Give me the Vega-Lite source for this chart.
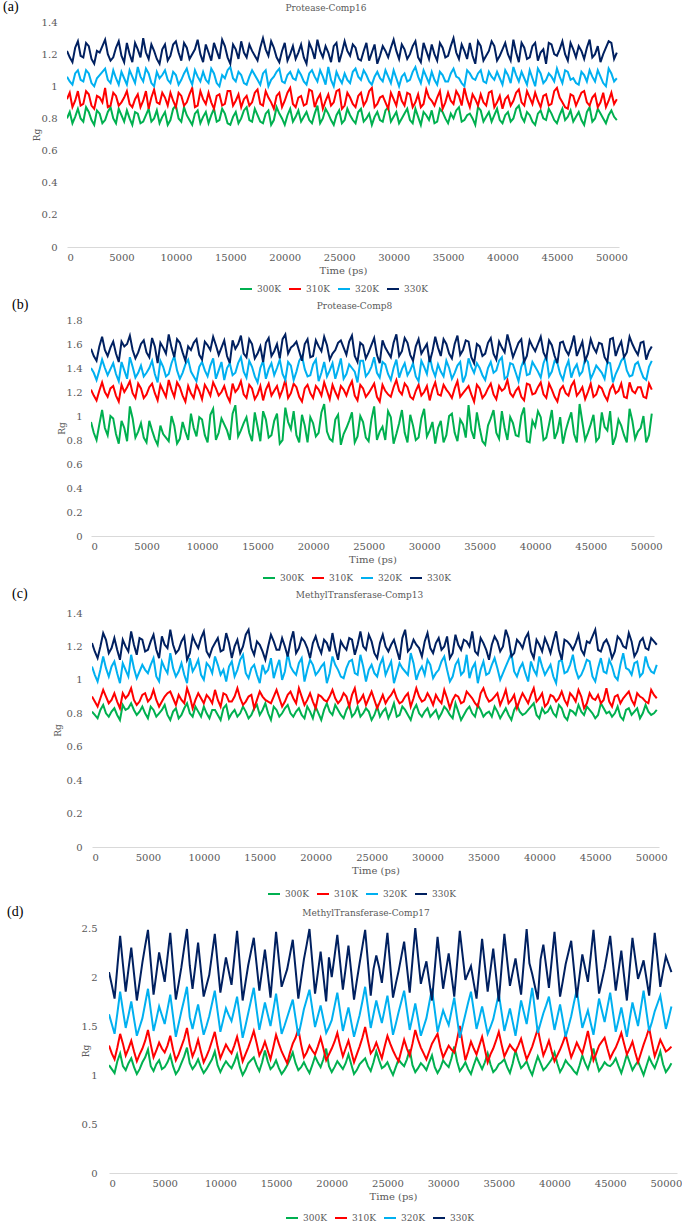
{
"$schema":"https://vega.github.io/schema/vega-lite/v6.json",
"background":"white",
"padding":{"left":3,"top":0,"right":0,"bottom":0},
"config":{
"view":{"stroke":null},
"font":"DejaVu Serif",
"axis":{"labelFont":"DejaVu Serif","labelFontSize":10,"labelColor":"#595959","titleFont":"DejaVu Serif","titleFontSize":10,"titleColor":"#595959","titleFontWeight":"normal","ticks":false,"tickSize":0,"grid":false},
"axisX":{"domainColor":"#D9D9D9","domainWidth":1,"labelPadding":5,"titlePadding":3},
"axisY":{"domain":false,"titleFontSize":9},
"legend":{"labelFont":"DejaVu Serif","labelFontSize":9,"labelColor":"#595959","symbolType":"stroke","symbolSize":144,"symbolStrokeWidth":2,"columnPadding":4,"labelOffset":4,"padding":0},
"title":{"font":"DejaVu Serif","fontSize":9,"color":"#595959","fontWeight":"normal"}
},
"datasets":{
"a":[
{"t":0,"300K":0.80,"310K":0.92,"320K":1.06,"330K":1.22},
{"t":250,"300K":0.84,"310K":0.96,"320K":1.03,"330K":1.18},
{"t":500,"300K":0.77,"310K":0.87,"320K":1.01,"330K":1.15},
{"t":750,"300K":0.81,"310K":0.91,"320K":1.08,"330K":1.24},
{"t":1000,"300K":0.86,"310K":0.97,"320K":1.10,"330K":1.28},
{"t":1250,"300K":0.80,"310K":0.88,"320K":1.04,"330K":1.19},
{"t":1500,"300K":0.78,"310K":0.89,"320K":1.03,"330K":1.18},
{"t":1750,"300K":0.87,"310K":0.97,"320K":1.10,"330K":1.27},
{"t":2000,"300K":0.84,"310K":0.95,"320K":1.08,"330K":1.25},
{"t":2250,"300K":0.79,"310K":0.88,"320K":1.02,"330K":1.17},
{"t":2500,"300K":0.76,"310K":0.86,"320K":1.00,"330K":1.14},
{"t":2750,"300K":0.85,"310K":0.94,"320K":1.05,"330K":1.22},
{"t":3000,"300K":0.83,"310K":0.93,"320K":1.07,"330K":1.21},
{"t":3250,"300K":0.77,"310K":0.90,"320K":1.09,"330K":1.25},
{"t":3500,"300K":0.79,"310K":0.99,"320K":1.11,"330K":1.29},
{"t":3750,"300K":0.84,"310K":0.87,"320K":1.04,"330K":1.20},
{"t":4000,"300K":0.87,"310K":0.88,"320K":1.02,"330K":1.16},
{"t":4250,"300K":0.80,"310K":0.96,"320K":1.10,"330K":1.18},
{"t":4500,"300K":0.77,"310K":0.94,"320K":1.05,"330K":1.24},
{"t":4750,"300K":0.86,"310K":0.88,"320K":1.01,"330K":1.28},
{"t":5000,"300K":0.82,"310K":0.90,"320K":1.09,"330K":1.19},
{"t":5250,"300K":0.78,"310K":0.93,"320K":1.05,"330K":1.15},
{"t":5500,"300K":0.85,"310K":0.97,"320K":1.01,"330K":1.27},
{"t":5750,"300K":0.80,"310K":0.89,"320K":1.10,"330K":1.20},
{"t":6000,"300K":0.76,"310K":0.87,"320K":1.06,"330K":1.15},
{"t":6250,"300K":0.84,"310K":0.92,"320K":1.02,"330K":1.27},
{"t":6500,"300K":0.83,"310K":0.95,"320K":1.12,"330K":1.23},
{"t":6750,"300K":0.77,"310K":0.87,"320K":1.06,"330K":1.18},
{"t":7000,"300K":0.78,"310K":0.91,"320K":1.03,"330K":1.30},
{"t":7250,"300K":0.82,"310K":0.97,"320K":1.11,"330K":1.21},
{"t":7500,"300K":0.86,"310K":0.86,"320K":1.08,"330K":1.17},
{"t":7750,"300K":0.78,"310K":0.93,"320K":1.02,"330K":1.26},
{"t":8000,"300K":0.80,"310K":0.98,"320K":1.00,"330K":1.22},
{"t":8250,"300K":0.85,"310K":0.90,"320K":1.09,"330K":1.17},
{"t":8500,"300K":0.77,"310K":0.89,"320K":1.05,"330K":1.14},
{"t":8750,"300K":0.81,"310K":0.96,"320K":1.07,"330K":1.23},
{"t":9000,"300K":0.84,"310K":0.93,"320K":1.10,"330K":1.26},
{"t":9250,"300K":0.76,"310K":0.88,"320K":1.04,"330K":1.16},
{"t":9500,"300K":0.79,"310K":0.96,"320K":1.02,"330K":1.19},
{"t":9750,"300K":0.86,"310K":0.91,"320K":1.09,"330K":1.26},
{"t":10000,"300K":0.88,"310K":0.87,"320K":1.07,"330K":1.28},
{"t":10250,"300K":0.80,"310K":0.96,"320K":1.01,"330K":1.21},
{"t":10500,"300K":0.78,"310K":0.94,"320K":1.04,"330K":1.16},
{"t":10750,"300K":0.87,"310K":0.88,"320K":1.08,"330K":1.27},
{"t":11000,"300K":0.82,"310K":0.90,"320K":1.11,"330K":1.24},
{"t":11250,"300K":0.79,"310K":0.95,"320K":1.05,"330K":1.17},
{"t":11500,"300K":0.76,"310K":0.99,"320K":1.01,"330K":1.20},
{"t":11750,"300K":0.83,"310K":0.87,"320K":1.10,"330K":1.23},
{"t":12000,"300K":0.85,"310K":0.88,"320K":1.06,"330K":1.29},
{"t":12250,"300K":0.77,"310K":0.97,"320K":1.03,"330K":1.20},
{"t":12500,"300K":0.81,"310K":0.92,"320K":1.09,"330K":1.15},
{"t":12750,"300K":0.84,"310K":0.89,"320K":1.04,"330K":1.26},
{"t":13000,"300K":0.77,"310K":0.96,"320K":1.02,"330K":1.21},
{"t":13250,"300K":0.82,"310K":0.90,"320K":1.11,"330K":1.16},
{"t":13500,"300K":0.86,"310K":0.86,"320K":1.08,"330K":1.27},
{"t":13750,"300K":0.78,"310K":0.94,"320K":1.02,"330K":1.22},
{"t":14000,"300K":0.79,"310K":0.95,"320K":1.00,"330K":1.17},
{"t":14250,"300K":0.86,"310K":0.88,"320K":1.07,"330K":1.29},
{"t":14500,"300K":0.83,"310K":0.89,"320K":1.05,"330K":1.25},
{"t":14750,"300K":0.77,"310K":0.97,"320K":1.10,"330K":1.18},
{"t":15000,"300K":0.76,"310K":0.97,"320K":1.12,"330K":1.14},
{"t":15250,"300K":0.81,"310K":0.88,"320K":1.05,"330K":1.26},
{"t":15500,"300K":0.84,"310K":0.91,"320K":1.03,"330K":1.23},
{"t":15750,"300K":0.77,"310K":0.95,"320K":1.09,"330K":1.17},
{"t":16000,"300K":0.80,"310K":0.87,"320K":1.07,"330K":1.28},
{"t":16250,"300K":0.85,"310K":0.92,"320K":1.02,"330K":1.21},
{"t":16500,"300K":0.87,"310K":0.94,"320K":1.01,"330K":1.18},
{"t":16750,"300K":0.79,"310K":0.88,"320K":1.06,"330K":1.26},
{"t":17000,"300K":0.78,"310K":0.90,"320K":1.10,"330K":1.22},
{"t":17250,"300K":0.86,"310K":0.96,"320K":1.07,"330K":1.19},
{"t":17500,"300K":0.82,"310K":0.98,"320K":1.04,"330K":1.16},
{"t":17750,"300K":0.78,"310K":0.89,"320K":1.01,"330K":1.24},
{"t":18000,"300K":0.77,"310K":0.88,"320K":1.08,"330K":1.30},
{"t":18250,"300K":0.83,"310K":0.97,"320K":1.10,"330K":1.23},
{"t":18500,"300K":0.85,"310K":0.93,"320K":1.00,"330K":1.19},
{"t":18750,"300K":0.76,"310K":0.90,"320K":1.04,"330K":1.28},
{"t":19000,"300K":0.79,"310K":0.86,"320K":1.06,"330K":1.24},
{"t":19250,"300K":0.87,"310K":0.94,"320K":1.09,"330K":1.18},
{"t":19500,"300K":0.83,"310K":0.96,"320K":1.11,"330K":1.15},
{"t":19750,"300K":0.80,"310K":0.87,"320K":1.03,"330K":1.22},
{"t":20000,"300K":0.76,"310K":0.91,"320K":1.02,"330K":1.27},
{"t":20250,"300K":0.82,"310K":0.96,"320K":1.07,"330K":1.16},
{"t":20500,"300K":0.86,"310K":0.99,"320K":1.09,"330K":1.20},
{"t":20750,"300K":0.78,"310K":0.89,"320K":1.05,"330K":1.25},
{"t":21000,"300K":0.81,"310K":0.87,"320K":1.04,"330K":1.17},
{"t":21250,"300K":0.85,"310K":0.93,"320K":1.10,"330K":1.21},
{"t":21500,"300K":0.78,"310K":0.94,"320K":1.07,"330K":1.26},
{"t":21750,"300K":0.81,"310K":0.88,"320K":1.03,"330K":1.18},
{"t":22000,"300K":0.84,"310K":0.89,"320K":1.01,"330K":1.14},
{"t":22250,"300K":0.79,"310K":0.98,"320K":1.08,"330K":1.27},
{"t":22500,"300K":0.77,"310K":0.97,"320K":1.10,"330K":1.23},
{"t":22750,"300K":0.83,"310K":0.87,"320K":1.06,"330K":1.17},
{"t":23000,"300K":0.88,"310K":0.92,"320K":1.03,"330K":1.29},
{"t":23250,"300K":0.77,"310K":0.95,"320K":1.10,"330K":1.22},
{"t":23500,"300K":0.80,"310K":0.86,"320K":1.06,"330K":1.18},
{"t":23750,"300K":0.86,"310K":0.91,"320K":1.01,"330K":1.25},
{"t":24000,"300K":0.83,"310K":0.95,"320K":1.12,"330K":1.21},
{"t":24250,"300K":0.79,"310K":0.88,"320K":1.04,"330K":1.15},
{"t":24500,"300K":0.76,"310K":0.90,"320K":1.00,"330K":1.25},
{"t":24750,"300K":0.82,"310K":0.97,"320K":1.09,"330K":1.27},
{"t":25000,"300K":0.85,"310K":0.98,"320K":1.05,"330K":1.15},
{"t":25250,"300K":0.77,"310K":0.86,"320K":1.02,"330K":1.21},
{"t":25500,"300K":0.79,"310K":0.88,"320K":1.08,"330K":1.28},
{"t":25750,"300K":0.86,"310K":0.96,"320K":1.04,"330K":1.22},
{"t":26000,"300K":0.82,"310K":0.93,"320K":1.02,"330K":1.19},
{"t":26250,"300K":0.79,"310K":0.89,"320K":1.09,"330K":1.26},
{"t":26500,"300K":0.77,"310K":0.87,"320K":1.11,"330K":1.24},
{"t":26750,"300K":0.84,"310K":0.94,"320K":1.06,"330K":1.17},
{"t":27000,"300K":0.86,"310K":0.96,"320K":1.04,"330K":1.16},
{"t":27250,"300K":0.78,"310K":0.88,"320K":1.10,"330K":1.22},
{"t":27500,"300K":0.80,"310K":0.91,"320K":1.07,"330K":1.27},
{"t":27750,"300K":0.83,"310K":0.97,"320K":1.03,"330K":1.16},
{"t":28000,"300K":0.76,"310K":0.99,"320K":1.01,"330K":1.21},
{"t":28250,"300K":0.81,"310K":0.87,"320K":1.06,"330K":1.26},
{"t":28500,"300K":0.84,"310K":0.89,"320K":1.09,"330K":1.14},
{"t":28750,"300K":0.79,"310K":0.93,"320K":1.05,"330K":1.19},
{"t":29000,"300K":0.78,"310K":0.94,"320K":1.03,"330K":1.25},
{"t":29250,"300K":0.85,"310K":0.90,"320K":1.10,"330K":1.22},
{"t":29500,"300K":0.87,"310K":0.86,"320K":1.06,"330K":1.18},
{"t":29750,"300K":0.78,"310K":0.96,"320K":1.02,"330K":1.24},
{"t":30000,"300K":0.81,"310K":0.92,"320K":1.10,"330K":1.29},
{"t":30250,"300K":0.84,"310K":0.88,"320K":1.05,"330K":1.22},
{"t":30500,"300K":0.77,"310K":0.97,"320K":1.00,"330K":1.17},
{"t":30750,"300K":0.80,"310K":0.91,"320K":1.06,"330K":1.26},
{"t":31000,"300K":0.83,"310K":0.88,"320K":1.08,"330K":1.23},
{"t":31250,"300K":0.86,"310K":0.96,"320K":1.03,"330K":1.17},
{"t":31500,"300K":0.79,"310K":0.95,"320K":1.04,"330K":1.20},
{"t":31750,"300K":0.77,"310K":0.87,"320K":1.09,"330K":1.25},
{"t":32000,"300K":0.86,"310K":0.90,"320K":1.12,"330K":1.28},
{"t":32250,"300K":0.81,"310K":0.95,"320K":1.06,"330K":1.18},
{"t":32500,"300K":0.76,"310K":0.87,"320K":1.02,"330K":1.15},
{"t":32750,"300K":0.84,"310K":0.89,"320K":1.10,"330K":1.27},
{"t":33000,"300K":0.82,"310K":0.98,"320K":1.06,"330K":1.22},
{"t":33250,"300K":0.79,"310K":0.93,"320K":1.02,"330K":1.17},
{"t":33500,"300K":0.85,"310K":0.91,"320K":1.09,"330K":1.26},
{"t":33750,"300K":0.77,"310K":0.88,"320K":1.04,"330K":1.20},
{"t":34000,"300K":0.78,"310K":0.93,"320K":1.01,"330K":1.16},
{"t":34250,"300K":0.86,"310K":0.97,"320K":1.09,"330K":1.27},
{"t":34500,"300K":0.84,"310K":0.86,"320K":1.07,"330K":1.24},
{"t":34750,"300K":0.80,"310K":0.90,"320K":1.03,"330K":1.18},
{"t":35000,"300K":0.77,"310K":0.96,"320K":1.03,"330K":1.19},
{"t":35250,"300K":0.83,"310K":0.91,"320K":1.08,"330K":1.25},
{"t":35500,"300K":0.80,"310K":0.89,"320K":1.11,"330K":1.30},
{"t":35750,"300K":0.85,"310K":0.97,"320K":1.06,"330K":1.21},
{"t":36000,"300K":0.87,"310K":0.94,"320K":1.05,"330K":1.17},
{"t":36250,"300K":0.78,"310K":0.88,"320K":1.02,"330K":1.26},
{"t":36500,"300K":0.79,"310K":0.99,"320K":1.00,"330K":1.22},
{"t":36750,"300K":0.82,"310K":0.92,"320K":1.10,"330K":1.17},
{"t":37000,"300K":0.83,"310K":0.87,"320K":1.08,"330K":1.27},
{"t":37250,"300K":0.80,"310K":0.95,"320K":1.05,"330K":1.19},
{"t":37500,"300K":0.76,"310K":0.92,"320K":1.04,"330K":1.14},
{"t":37750,"300K":0.87,"310K":0.88,"320K":1.08,"330K":1.28},
{"t":38000,"300K":0.85,"310K":0.95,"320K":1.10,"330K":1.25},
{"t":38250,"300K":0.78,"310K":0.90,"320K":1.03,"330K":1.16},
{"t":38500,"300K":0.81,"310K":0.88,"320K":1.02,"330K":1.19},
{"t":38750,"300K":0.84,"310K":0.96,"320K":1.09,"330K":1.22},
{"t":39000,"300K":0.78,"310K":0.97,"320K":1.06,"330K":1.28},
{"t":39250,"300K":0.82,"310K":0.87,"320K":1.04,"330K":1.25},
{"t":39500,"300K":0.86,"310K":0.90,"320K":1.09,"330K":1.16},
{"t":39750,"300K":0.79,"310K":0.94,"320K":1.05,"330K":1.19},
{"t":40000,"300K":0.77,"310K":0.86,"320K":1.01,"330K":1.23},
{"t":40250,"300K":0.82,"310K":0.92,"320K":1.10,"330K":1.27},
{"t":40500,"300K":0.84,"310K":0.94,"320K":1.07,"330K":1.20},
{"t":40750,"300K":0.78,"310K":0.88,"320K":1.02,"330K":1.16},
{"t":41000,"300K":0.80,"310K":0.91,"320K":1.12,"330K":1.29},
{"t":41250,"300K":0.86,"310K":0.96,"320K":1.07,"330K":1.21},
{"t":41500,"300K":0.88,"310K":0.98,"320K":1.03,"330K":1.15},
{"t":41750,"300K":0.81,"310K":0.90,"320K":1.09,"330K":1.27},
{"t":42000,"300K":0.78,"310K":0.88,"320K":1.05,"330K":1.24},
{"t":42250,"300K":0.84,"310K":0.97,"320K":1.01,"330K":1.17},
{"t":42500,"300K":0.82,"310K":0.93,"320K":1.10,"330K":1.18},
{"t":42750,"300K":0.78,"310K":0.89,"320K":1.05,"330K":1.25},
{"t":43000,"300K":0.76,"310K":0.96,"320K":1.00,"330K":1.27},
{"t":43250,"300K":0.83,"310K":0.91,"320K":1.11,"330K":1.16},
{"t":43500,"300K":0.85,"310K":0.87,"320K":1.08,"330K":1.21},
{"t":43750,"300K":0.80,"310K":0.94,"320K":1.02,"330K":1.23},
{"t":44000,"300K":0.79,"310K":0.95,"320K":1.04,"330K":1.14},
{"t":44250,"300K":0.86,"310K":0.88,"320K":1.08,"330K":1.27},
{"t":44500,"300K":0.83,"310K":0.89,"320K":1.06,"330K":1.26},
{"t":44750,"300K":0.79,"310K":0.97,"320K":1.03,"330K":1.20},
{"t":45000,"300K":0.77,"310K":0.99,"320K":1.11,"330K":1.19},
{"t":45250,"300K":0.82,"310K":0.93,"320K":1.06,"330K":1.23},
{"t":45500,"300K":0.86,"310K":0.90,"320K":1.02,"330K":1.28},
{"t":45750,"300K":0.79,"310K":0.87,"320K":1.10,"330K":1.20},
{"t":46000,"300K":0.81,"310K":0.86,"320K":1.09,"330K":1.16},
{"t":46250,"300K":0.85,"310K":0.95,"320K":1.04,"330K":1.27},
{"t":46500,"300K":0.78,"310K":0.94,"320K":1.05,"330K":1.23},
{"t":46750,"300K":0.81,"310K":0.88,"320K":1.02,"330K":1.18},
{"t":47000,"300K":0.84,"310K":0.92,"320K":1.01,"330K":1.25},
{"t":47250,"300K":0.79,"310K":0.96,"320K":1.09,"330K":1.22},
{"t":47500,"300K":0.76,"310K":0.97,"320K":1.07,"330K":1.17},
{"t":47750,"300K":0.84,"310K":0.90,"320K":1.03,"330K":1.24},
{"t":48000,"300K":0.87,"310K":0.88,"320K":1.10,"330K":1.29},
{"t":48250,"300K":0.78,"310K":0.93,"320K":1.06,"330K":1.18},
{"t":48500,"300K":0.80,"310K":0.95,"320K":1.03,"330K":1.20},
{"t":48750,"300K":0.86,"310K":0.87,"320K":1.10,"330K":1.25},
{"t":49000,"300K":0.83,"310K":0.90,"320K":1.06,"330K":1.15},
{"t":49250,"300K":0.80,"310K":0.96,"320K":1.02,"330K":1.20},
{"t":49500,"300K":0.77,"310K":0.87,"320K":1.00,"330K":1.24},
{"t":49750,"300K":0.82,"310K":0.91,"320K":1.11,"330K":1.28},
{"t":50000,"300K":0.85,"310K":0.96,"320K":1.08,"330K":1.27},
{"t":50250,"300K":0.81,"310K":0.89,"320K":1.03,"330K":1.17},
{"t":50500,"300K":0.79,"310K":0.92,"320K":1.05,"330K":1.21}
],
"b":[
{"t":0,"300K":0.95,"310K":1.22,"320K":1.40,"330K":1.56},
{"t":250,"300K":0.86,"310K":1.17,"320K":1.36,"330K":1.50},
{"t":500,"300K":0.80,"310K":1.13,"320K":1.30,"330K":1.46},
{"t":750,"300K":0.93,"310K":1.21,"320K":1.38,"330K":1.58},
{"t":1000,"300K":1.05,"310K":1.28,"320K":1.47,"330K":1.66},
{"t":1250,"300K":0.90,"310K":1.20,"320K":1.40,"330K":1.55},
{"t":1500,"300K":0.84,"310K":1.16,"320K":1.34,"330K":1.50},
{"t":1750,"300K":1.00,"310K":1.23,"320K":1.39,"330K":1.57},
{"t":2000,"300K":0.98,"310K":1.25,"320K":1.44,"330K":1.62},
{"t":2250,"300K":0.85,"310K":1.17,"320K":1.35,"330K":1.52},
{"t":2500,"300K":0.77,"310K":1.12,"320K":1.29,"330K":1.45},
{"t":2750,"300K":0.96,"310K":1.26,"320K":1.45,"330K":1.62},
{"t":3000,"300K":0.90,"310K":1.20,"320K":1.38,"330K":1.58},
{"t":3250,"300K":0.79,"310K":1.24,"320K":1.31,"330K":1.60},
{"t":3500,"300K":1.08,"310K":1.29,"320K":1.49,"330K":1.67},
{"t":3750,"300K":0.98,"310K":1.19,"320K":1.41,"330K":1.55},
{"t":4000,"300K":0.82,"310K":1.15,"320K":1.32,"330K":1.48},
{"t":4250,"300K":0.87,"310K":1.27,"320K":1.36,"330K":1.53},
{"t":4500,"300K":0.94,"310K":1.23,"320K":1.42,"330K":1.60},
{"t":4750,"300K":0.82,"310K":1.15,"320K":1.33,"330K":1.63},
{"t":5000,"300K":0.78,"310K":1.18,"320K":1.36,"330K":1.53},
{"t":5250,"300K":0.96,"310K":1.24,"320K":1.40,"330K":1.49},
{"t":5500,"300K":0.88,"310K":1.27,"320K":1.46,"330K":1.65},
{"t":5750,"300K":0.81,"310K":1.19,"320K":1.35,"330K":1.58},
{"t":6000,"300K":0.76,"310K":1.13,"320K":1.28,"330K":1.44},
{"t":6250,"300K":0.92,"310K":1.26,"320K":1.46,"330K":1.61},
{"t":6500,"300K":0.85,"310K":1.21,"320K":1.41,"330K":1.57},
{"t":6750,"300K":0.82,"310K":1.16,"320K":1.33,"330K":1.52},
{"t":7000,"300K":0.79,"310K":1.30,"320K":1.35,"330K":1.68},
{"t":7250,"300K":1.00,"310K":1.22,"320K":1.44,"330K":1.57},
{"t":7500,"300K":0.92,"310K":1.16,"320K":1.50,"330K":1.49},
{"t":7750,"300K":0.77,"310K":1.28,"320K":1.38,"330K":1.64},
{"t":8000,"300K":0.81,"310K":1.24,"320K":1.31,"330K":1.61},
{"t":8250,"300K":0.95,"310K":1.17,"320K":1.36,"330K":1.53},
{"t":8500,"300K":0.87,"310K":1.12,"320K":1.43,"330K":1.46},
{"t":8750,"300K":0.80,"310K":1.25,"320K":1.47,"330K":1.58},
{"t":9000,"300K":1.02,"310K":1.19,"320K":1.37,"330K":1.55},
{"t":9250,"300K":0.90,"310K":1.15,"320K":1.33,"330K":1.61},
{"t":9500,"300K":0.83,"310K":1.26,"320K":1.29,"330K":1.64},
{"t":9750,"300K":0.99,"310K":1.21,"320K":1.41,"330K":1.51},
{"t":10000,"300K":0.97,"310K":1.14,"320K":1.45,"330K":1.47},
{"t":10250,"300K":0.84,"310K":1.26,"320K":1.38,"330K":1.62},
{"t":10500,"300K":0.78,"310K":1.22,"320K":1.33,"330K":1.59},
{"t":10750,"300K":1.01,"310K":1.17,"320K":1.42,"330K":1.55},
{"t":11000,"300K":1.06,"310K":1.28,"320K":1.48,"330K":1.66},
{"t":11250,"300K":0.80,"310K":1.23,"320K":1.31,"330K":1.59},
{"t":11500,"300K":0.86,"310K":1.17,"320K":1.38,"330K":1.51},
{"t":11750,"300K":0.98,"310K":1.20,"320K":1.45,"330K":1.57},
{"t":12000,"300K":0.93,"310K":1.25,"320K":1.30,"330K":1.63},
{"t":12250,"300K":0.88,"310K":1.17,"320K":1.40,"330K":1.50},
{"t":12500,"300K":0.80,"310K":1.12,"320K":1.44,"330K":1.44},
{"t":12750,"300K":1.02,"310K":1.27,"320K":1.34,"330K":1.63},
{"t":13000,"300K":1.09,"310K":1.20,"320K":1.36,"330K":1.56},
{"t":13250,"300K":0.83,"310K":1.23,"320K":1.44,"330K":1.60},
{"t":13500,"300K":0.88,"310K":1.29,"320K":1.49,"330K":1.67},
{"t":13750,"300K":0.94,"310K":1.18,"320K":1.37,"330K":1.52},
{"t":14000,"300K":0.99,"310K":1.15,"320K":1.32,"330K":1.49},
{"t":14250,"300K":0.86,"310K":1.26,"320K":1.46,"330K":1.64},
{"t":14500,"300K":0.79,"310K":1.23,"320K":1.41,"330K":1.60},
{"t":14750,"300K":1.03,"310K":1.14,"320K":1.33,"330K":1.48},
{"t":15000,"300K":0.91,"310K":1.18,"320K":1.28,"330K":1.52},
{"t":15250,"300K":0.79,"310K":1.25,"320K":1.40,"330K":1.58},
{"t":15500,"300K":1.04,"310K":1.13,"320K":1.46,"330K":1.45},
{"t":15750,"300K":0.97,"310K":1.22,"320K":1.31,"330K":1.61},
{"t":16000,"300K":0.82,"310K":1.27,"320K":1.39,"330K":1.65},
{"t":16250,"300K":0.84,"310K":1.17,"320K":1.44,"330K":1.50},
{"t":16500,"300K":0.96,"310K":1.21,"320K":1.34,"330K":1.54},
{"t":16750,"300K":1.02,"310K":1.25,"320K":1.40,"330K":1.60},
{"t":17000,"300K":0.77,"310K":1.16,"320K":1.47,"330K":1.48},
{"t":17250,"300K":0.80,"310K":1.22,"320K":1.35,"330K":1.64},
{"t":17500,"300K":1.07,"310K":1.30,"320K":1.30,"330K":1.68},
{"t":17750,"300K":0.95,"310K":1.15,"320K":1.45,"330K":1.52},
{"t":18000,"300K":0.89,"310K":1.19,"320K":1.42,"330K":1.57},
{"t":18250,"300K":1.04,"310K":1.27,"320K":1.30,"330K":1.59},
{"t":18500,"300K":0.84,"310K":1.24,"320K":1.37,"330K":1.62},
{"t":18750,"300K":0.78,"310K":1.16,"320K":1.46,"330K":1.54},
{"t":19000,"300K":1.01,"310K":1.12,"320K":1.50,"330K":1.46},
{"t":19250,"300K":0.92,"310K":1.23,"320K":1.39,"330K":1.60},
{"t":19500,"300K":0.78,"310K":1.26,"320K":1.33,"330K":1.64},
{"t":19750,"300K":0.99,"310K":1.19,"320K":1.34,"330K":1.49},
{"t":20000,"300K":0.94,"310K":1.15,"320K":1.43,"330K":1.50},
{"t":20250,"300K":0.83,"310K":1.25,"320K":1.47,"330K":1.63},
{"t":20500,"300K":0.86,"310K":1.22,"320K":1.29,"330K":1.58},
{"t":20750,"300K":1.03,"310K":1.17,"320K":1.36,"330K":1.54},
{"t":21000,"300K":1.10,"310K":1.28,"320K":1.45,"330K":1.66},
{"t":21250,"300K":0.87,"310K":1.21,"320K":1.33,"330K":1.59},
{"t":21500,"300K":0.81,"310K":1.14,"320K":1.38,"330K":1.47},
{"t":21750,"300K":0.79,"310K":1.26,"320K":1.44,"330K":1.52},
{"t":22000,"300K":0.97,"310K":1.20,"320K":1.31,"330K":1.55},
{"t":22250,"300K":1.01,"310K":1.15,"320K":1.39,"330K":1.61},
{"t":22500,"300K":0.76,"310K":1.25,"320K":1.48,"330K":1.63},
{"t":22750,"300K":0.85,"310K":1.22,"320K":1.31,"330K":1.57},
{"t":23000,"300K":0.90,"310K":1.17,"320K":1.35,"330K":1.51},
{"t":23250,"300K":0.96,"310K":1.24,"320K":1.43,"330K":1.62},
{"t":23500,"300K":1.03,"310K":1.29,"320K":1.40,"330K":1.67},
{"t":23750,"300K":0.78,"310K":1.17,"320K":1.37,"330K":1.50},
{"t":24000,"300K":0.83,"310K":1.13,"320K":1.28,"330K":1.45},
{"t":24250,"300K":1.00,"310K":1.26,"320K":1.46,"330K":1.61},
{"t":24500,"300K":0.95,"310K":1.23,"320K":1.46,"330K":1.59},
{"t":24750,"300K":0.82,"310K":1.16,"320K":1.33,"330K":1.48},
{"t":25000,"300K":0.79,"310K":1.19,"320K":1.36,"330K":1.53},
{"t":25250,"300K":0.97,"310K":1.23,"320K":1.41,"330K":1.59},
{"t":25500,"300K":1.08,"310K":1.27,"320K":1.49,"330K":1.65},
{"t":25750,"300K":0.80,"310K":1.16,"320K":1.36,"330K":1.51},
{"t":26000,"300K":0.87,"310K":1.12,"320K":1.32,"330K":1.44},
{"t":26250,"300K":0.91,"310K":1.26,"320K":1.45,"330K":1.63},
{"t":26500,"300K":0.80,"310K":1.21,"320K":1.43,"330K":1.57},
{"t":26750,"300K":1.04,"310K":1.18,"320K":1.35,"330K":1.53},
{"t":27000,"300K":0.99,"310K":1.16,"320K":1.30,"330K":1.49},
{"t":27250,"300K":0.77,"310K":1.24,"320K":1.40,"330K":1.61},
{"t":27500,"300K":0.85,"310K":1.30,"320K":1.47,"330K":1.68},
{"t":27750,"300K":0.94,"310K":1.21,"320K":1.32,"330K":1.50},
{"t":28000,"300K":1.05,"310K":1.18,"320K":1.39,"330K":1.54},
{"t":28250,"300K":0.86,"310K":1.27,"320K":1.44,"330K":1.65},
{"t":28500,"300K":0.78,"310K":1.24,"320K":1.34,"330K":1.61},
{"t":28750,"300K":1.01,"310K":1.16,"320K":1.38,"330K":1.51},
{"t":29000,"300K":0.92,"310K":1.14,"320K":1.44,"330K":1.46},
{"t":29250,"300K":0.80,"310K":1.21,"320K":1.33,"330K":1.58},
{"t":29500,"300K":0.82,"310K":1.26,"320K":1.29,"330K":1.64},
{"t":29750,"300K":0.98,"310K":1.17,"320K":1.46,"330K":1.52},
{"t":30000,"300K":1.06,"310K":1.20,"320K":1.41,"330K":1.56},
{"t":30250,"300K":0.83,"310K":1.25,"320K":1.35,"330K":1.60},
{"t":30500,"300K":0.88,"310K":1.13,"320K":1.50,"330K":1.45},
{"t":30750,"300K":0.95,"310K":1.22,"320K":1.39,"330K":1.54},
{"t":31000,"300K":0.77,"310K":1.28,"320K":1.33,"330K":1.66},
{"t":31250,"300K":0.90,"310K":1.18,"320K":1.43,"330K":1.57},
{"t":31500,"300K":0.96,"310K":1.17,"320K":1.37,"330K":1.50},
{"t":31750,"300K":0.78,"310K":1.26,"320K":1.33,"330K":1.64},
{"t":32000,"300K":0.84,"310K":1.22,"320K":1.46,"330K":1.60},
{"t":32250,"300K":1.00,"310K":1.19,"320K":1.40,"330K":1.52},
{"t":32500,"300K":1.02,"310K":1.15,"320K":1.31,"330K":1.48},
{"t":32750,"300K":0.86,"310K":1.23,"320K":1.36,"330K":1.60},
{"t":33000,"300K":0.79,"310K":1.29,"320K":1.42,"330K":1.67},
{"t":33250,"300K":0.97,"310K":1.16,"320K":1.45,"330K":1.51},
{"t":33500,"300K":0.93,"310K":1.19,"320K":1.28,"330K":1.55},
{"t":33750,"300K":0.82,"310K":1.22,"320K":1.34,"330K":1.63},
{"t":34000,"300K":1.09,"310K":1.25,"320K":1.48,"330K":1.62},
{"t":34250,"300K":0.88,"310K":1.18,"320K":1.41,"330K":1.49},
{"t":34500,"300K":0.81,"310K":1.12,"320K":1.36,"330K":1.44},
{"t":34750,"300K":1.03,"310K":1.26,"320K":1.44,"330K":1.60},
{"t":35000,"300K":0.90,"310K":1.23,"320K":1.40,"330K":1.58},
{"t":35250,"300K":0.79,"310K":1.15,"320K":1.34,"330K":1.50},
{"t":35500,"300K":0.76,"310K":1.18,"320K":1.30,"330K":1.52},
{"t":35750,"300K":0.92,"310K":1.23,"320K":1.40,"330K":1.61},
{"t":36000,"300K":0.98,"310K":1.27,"320K":1.45,"330K":1.65},
{"t":36250,"300K":1.05,"310K":1.18,"320K":1.36,"330K":1.52},
{"t":36500,"300K":0.86,"310K":1.14,"320K":1.38,"330K":1.47},
{"t":36750,"300K":0.81,"310K":1.25,"320K":1.46,"330K":1.62},
{"t":37000,"300K":1.04,"310K":1.21,"320K":1.49,"330K":1.57},
{"t":37250,"300K":0.90,"310K":1.23,"320K":1.31,"330K":1.53},
{"t":37500,"300K":0.80,"310K":1.30,"320K":1.33,"330K":1.68},
{"t":37750,"300K":0.99,"310K":1.19,"320K":1.44,"330K":1.59},
{"t":38000,"300K":0.94,"310K":1.16,"320K":1.43,"330K":1.49},
{"t":38250,"300K":0.84,"310K":1.21,"320K":1.36,"330K":1.55},
{"t":38500,"300K":0.83,"310K":1.24,"320K":1.29,"330K":1.61},
{"t":38750,"300K":1.00,"310K":1.16,"320K":1.41,"330K":1.64},
{"t":39000,"300K":1.07,"310K":1.13,"320K":1.47,"330K":1.45},
{"t":39250,"300K":0.79,"310K":1.27,"320K":1.34,"330K":1.50},
{"t":39500,"300K":0.78,"310K":1.26,"320K":1.35,"330K":1.63},
{"t":39750,"300K":0.96,"310K":1.18,"320K":1.45,"330K":1.58},
{"t":40000,"300K":0.91,"310K":1.19,"320K":1.41,"330K":1.54},
{"t":40250,"300K":1.04,"310K":1.24,"320K":1.37,"330K":1.60},
{"t":40500,"300K":0.99,"310K":1.28,"320K":1.32,"330K":1.66},
{"t":40750,"300K":0.80,"310K":1.18,"320K":1.44,"330K":1.53},
{"t":41000,"300K":0.82,"310K":1.15,"320K":1.50,"330K":1.48},
{"t":41250,"300K":0.93,"310K":1.27,"320K":1.33,"330K":1.63},
{"t":41500,"300K":1.05,"310K":1.22,"320K":1.37,"330K":1.59},
{"t":41750,"300K":0.81,"310K":1.16,"320K":1.46,"330K":1.50},
{"t":42000,"300K":0.87,"310K":1.12,"320K":1.44,"330K":1.44},
{"t":42250,"300K":0.99,"310K":1.22,"320K":1.35,"330K":1.61},
{"t":42500,"300K":0.77,"310K":1.25,"320K":1.30,"330K":1.62},
{"t":42750,"300K":0.88,"310K":1.19,"320K":1.40,"330K":1.55},
{"t":43000,"300K":0.96,"310K":1.17,"320K":1.46,"330K":1.51},
{"t":43250,"300K":1.03,"310K":1.25,"320K":1.32,"330K":1.58},
{"t":43500,"300K":0.85,"310K":1.29,"320K":1.39,"330K":1.67},
{"t":43750,"300K":0.78,"310K":1.17,"320K":1.43,"330K":1.50},
{"t":44000,"300K":1.10,"310K":1.20,"320K":1.34,"330K":1.56},
{"t":44250,"300K":0.95,"310K":1.24,"320K":1.37,"330K":1.62},
{"t":44500,"300K":0.80,"310K":1.14,"320K":1.48,"330K":1.46},
{"t":44750,"300K":0.86,"310K":1.20,"320K":1.45,"330K":1.52},
{"t":45000,"300K":0.93,"310K":1.27,"320K":1.31,"330K":1.64},
{"t":45250,"300K":1.01,"310K":1.16,"320K":1.36,"330K":1.57},
{"t":45500,"300K":0.79,"310K":1.18,"320K":1.42,"330K":1.53},
{"t":45750,"300K":0.82,"310K":1.25,"320K":1.39,"330K":1.61},
{"t":46000,"300K":1.03,"310K":1.23,"320K":1.36,"330K":1.60},
{"t":46250,"300K":0.91,"310K":1.17,"320K":1.31,"330K":1.49},
{"t":46500,"300K":0.88,"310K":1.13,"320K":1.45,"330K":1.45},
{"t":46750,"300K":1.04,"310K":1.22,"320K":1.44,"330K":1.64},
{"t":47000,"300K":0.76,"310K":1.26,"320K":1.28,"330K":1.65},
{"t":47250,"300K":0.83,"310K":1.19,"320K":1.35,"330K":1.50},
{"t":47500,"300K":0.97,"310K":1.21,"320K":1.40,"330K":1.57},
{"t":47750,"300K":0.92,"310K":1.27,"320K":1.46,"330K":1.62},
{"t":48000,"300K":0.84,"310K":1.16,"320K":1.49,"330K":1.49},
{"t":48250,"300K":0.78,"310K":1.15,"320K":1.38,"330K":1.53},
{"t":48500,"300K":1.06,"310K":1.28,"320K":1.33,"330K":1.66},
{"t":48750,"300K":0.96,"310K":1.21,"320K":1.34,"330K":1.60},
{"t":49000,"300K":0.81,"310K":1.19,"320K":1.43,"330K":1.55},
{"t":49250,"300K":0.87,"310K":1.24,"320K":1.45,"330K":1.51},
{"t":49500,"300K":0.90,"310K":1.24,"320K":1.38,"330K":1.61},
{"t":49750,"300K":1.00,"310K":1.16,"320K":1.32,"330K":1.62},
{"t":50000,"300K":0.78,"310K":1.15,"320K":1.30,"330K":1.47},
{"t":50250,"300K":0.84,"310K":1.27,"320K":1.41,"330K":1.54},
{"t":50500,"300K":1.02,"310K":1.22,"320K":1.46,"330K":1.58}
],
"c":[
{"t":0,"300K":0.81,"310K":0.90,"320K":1.08,"330K":1.22},
{"t":250,"300K":0.79,"310K":0.87,"320K":1.03,"330K":1.17},
{"t":500,"300K":0.77,"310K":0.84,"320K":0.99,"330K":1.13},
{"t":750,"300K":0.82,"310K":0.89,"320K":1.06,"330K":1.20},
{"t":1000,"300K":0.85,"310K":0.94,"320K":1.14,"330K":1.28},
{"t":1250,"300K":0.80,"310K":0.90,"320K":1.07,"330K":1.24},
{"t":1500,"300K":0.78,"310K":0.86,"320K":1.02,"330K":1.16},
{"t":1750,"300K":0.81,"310K":0.88,"320K":1.08,"330K":1.19},
{"t":2000,"300K":0.83,"310K":0.92,"320K":1.11,"330K":1.25},
{"t":2250,"300K":0.79,"310K":0.87,"320K":1.04,"330K":1.18},
{"t":2500,"300K":0.76,"310K":0.83,"320K":0.98,"330K":1.12},
{"t":2750,"300K":0.85,"310K":0.92,"320K":1.10,"330K":1.24},
{"t":3000,"300K":0.82,"310K":0.89,"320K":1.06,"330K":1.20},
{"t":3250,"300K":0.83,"310K":0.91,"320K":1.02,"330K":1.17},
{"t":3500,"300K":0.86,"310K":0.95,"320K":1.15,"330K":1.29},
{"t":3750,"300K":0.82,"310K":0.88,"320K":1.07,"330K":1.21},
{"t":4000,"300K":0.79,"310K":0.85,"320K":1.01,"330K":1.15},
{"t":4250,"300K":0.81,"310K":0.87,"320K":1.05,"330K":1.25},
{"t":4500,"300K":0.84,"310K":0.91,"320K":1.09,"330K":1.24},
{"t":4750,"300K":0.80,"310K":0.92,"320K":1.06,"330K":1.17},
{"t":5000,"300K":0.77,"310K":0.87,"320K":1.04,"330K":1.18},
{"t":5250,"300K":0.84,"310K":0.89,"320K":1.09,"330K":1.23},
{"t":5500,"300K":0.82,"310K":0.94,"320K":1.13,"330K":1.27},
{"t":5750,"300K":0.78,"310K":0.88,"320K":1.02,"330K":1.18},
{"t":6000,"300K":0.80,"310K":0.84,"320K":0.99,"330K":1.13},
{"t":6250,"300K":0.82,"310K":0.87,"320K":1.11,"330K":1.26},
{"t":6500,"300K":0.85,"310K":0.90,"320K":1.07,"330K":1.21},
{"t":6750,"300K":0.79,"310K":0.92,"320K":1.04,"330K":1.19},
{"t":7000,"300K":0.76,"310K":0.93,"320K":1.16,"330K":1.30},
{"t":7250,"300K":0.81,"310K":0.89,"320K":1.07,"330K":1.21},
{"t":7500,"300K":0.83,"310K":0.85,"320K":1.02,"330K":1.16},
{"t":7750,"300K":0.77,"310K":0.91,"320K":1.05,"330K":1.18},
{"t":8000,"300K":0.79,"310K":0.88,"320K":1.10,"330K":1.23},
{"t":8250,"300K":0.83,"310K":0.86,"320K":1.03,"330K":1.26},
{"t":8500,"300K":0.86,"310K":0.95,"320K":0.98,"330K":1.12},
{"t":8750,"300K":0.80,"310K":0.90,"320K":1.13,"330K":1.16},
{"t":9000,"300K":0.78,"310K":0.83,"320K":1.05,"330K":1.26},
{"t":9250,"300K":0.84,"310K":0.88,"320K":1.08,"330K":1.22},
{"t":9500,"300K":0.81,"310K":0.92,"320K":1.12,"330K":1.19},
{"t":9750,"300K":0.78,"310K":0.89,"320K":1.03,"330K":1.25},
{"t":10000,"300K":0.84,"310K":0.86,"320K":1.00,"330K":1.29},
{"t":10250,"300K":0.80,"310K":0.91,"320K":1.10,"330K":1.17},
{"t":10500,"300K":0.77,"310K":0.89,"320K":1.08,"330K":1.14},
{"t":10750,"300K":0.82,"310K":0.86,"320K":1.04,"330K":1.19},
{"t":11000,"300K":0.82,"310K":0.94,"320K":1.14,"330K":1.22},
{"t":11250,"300K":0.79,"310K":0.88,"320K":1.09,"330K":1.25},
{"t":11500,"300K":0.76,"310K":0.84,"320K":1.03,"330K":1.17},
{"t":11750,"300K":0.83,"310K":0.92,"320K":1.06,"330K":1.18},
{"t":12000,"300K":0.85,"310K":0.91,"320K":0.99,"330K":1.28},
{"t":12250,"300K":0.77,"310K":0.87,"320K":1.08,"330K":1.22},
{"t":12500,"300K":0.80,"310K":0.87,"320K":1.11,"330K":1.13},
{"t":12750,"300K":0.82,"310K":0.90,"320K":1.02,"330K":1.20},
{"t":13000,"300K":0.78,"310K":0.95,"320K":1.06,"330K":1.24},
{"t":13250,"300K":0.80,"310K":0.89,"320K":1.12,"330K":1.16},
{"t":13500,"300K":0.84,"310K":0.85,"320K":1.15,"330K":1.20},
{"t":13750,"300K":0.81,"310K":0.87,"320K":1.04,"330K":1.27},
{"t":14000,"300K":0.77,"310K":0.90,"320K":1.01,"330K":1.30},
{"t":14250,"300K":0.79,"310K":0.91,"320K":1.07,"330K":1.19},
{"t":14500,"300K":0.83,"310K":0.83,"320K":1.09,"330K":1.15},
{"t":14750,"300K":0.85,"310K":0.88,"320K":1.03,"330K":1.23},
{"t":15000,"300K":0.79,"310K":0.93,"320K":0.98,"330K":1.21},
{"t":15250,"300K":0.82,"310K":0.90,"320K":1.09,"330K":1.17},
{"t":15500,"300K":0.86,"310K":0.88,"320K":1.04,"330K":1.12},
{"t":15750,"300K":0.80,"310K":0.87,"320K":1.06,"330K":1.20},
{"t":16000,"300K":0.76,"310K":0.86,"320K":1.13,"330K":1.27},
{"t":16250,"300K":0.84,"310K":0.90,"320K":1.01,"330K":1.23},
{"t":16500,"300K":0.82,"310K":0.94,"320K":1.07,"330K":1.18},
{"t":16750,"300K":0.78,"310K":0.89,"320K":1.12,"330K":1.18},
{"t":17000,"300K":0.80,"310K":0.84,"320K":1.00,"330K":1.25},
{"t":17250,"300K":0.83,"310K":0.87,"320K":1.05,"330K":1.20},
{"t":17500,"300K":0.85,"310K":0.91,"320K":1.16,"330K":1.14},
{"t":17750,"300K":0.80,"310K":0.93,"320K":1.08,"330K":1.23},
{"t":18000,"300K":0.78,"310K":0.89,"320K":1.05,"330K":1.29},
{"t":18250,"300K":0.81,"310K":0.86,"320K":1.03,"330K":1.16},
{"t":18500,"300K":0.83,"310K":0.95,"320K":1.10,"330K":1.19},
{"t":18750,"300K":0.79,"310K":0.90,"320K":1.13,"330K":1.25},
{"t":19000,"300K":0.77,"310K":0.85,"320K":0.99,"330K":1.23},
{"t":19250,"300K":0.84,"310K":0.88,"320K":1.06,"330K":1.19},
{"t":19500,"300K":0.81,"310K":0.92,"320K":1.12,"330K":1.13},
{"t":19750,"300K":0.77,"310K":0.87,"320K":1.09,"330K":1.22},
{"t":20000,"300K":0.84,"310K":0.83,"320K":1.03,"330K":1.26},
{"t":20250,"300K":0.80,"310K":0.91,"320K":1.05,"330K":1.20},
{"t":20500,"300K":0.76,"310K":0.90,"320K":1.08,"330K":1.16},
{"t":20750,"300K":0.82,"310K":0.88,"320K":1.10,"330K":1.24},
{"t":21000,"300K":0.86,"310K":0.87,"320K":0.98,"330K":1.22},
{"t":21250,"300K":0.81,"310K":0.90,"320K":1.04,"330K":1.17},
{"t":21500,"300K":0.79,"310K":0.94,"320K":1.14,"330K":1.28},
{"t":21750,"300K":0.85,"310K":0.89,"320K":1.09,"330K":1.19},
{"t":22000,"300K":0.82,"310K":0.86,"320K":1.06,"330K":1.12},
{"t":22250,"300K":0.79,"310K":0.88,"320K":1.02,"330K":1.23},
{"t":22500,"300K":0.77,"310K":0.92,"320K":1.01,"330K":1.20},
{"t":22750,"300K":0.82,"310K":0.90,"320K":1.07,"330K":1.18},
{"t":23000,"300K":0.85,"310K":0.84,"320K":1.11,"330K":1.25},
{"t":23250,"300K":0.78,"310K":0.91,"320K":1.12,"330K":1.24},
{"t":23500,"300K":0.80,"310K":0.95,"320K":1.04,"330K":1.15},
{"t":23750,"300K":0.84,"310K":0.86,"320K":1.03,"330K":1.21},
{"t":24000,"300K":0.78,"310K":0.88,"320K":1.15,"330K":1.29},
{"t":24250,"300K":0.80,"310K":0.91,"320K":1.08,"330K":1.20},
{"t":24500,"300K":0.83,"310K":0.85,"320K":0.99,"330K":1.18},
{"t":24750,"300K":0.81,"310K":0.89,"320K":1.06,"330K":1.27},
{"t":25000,"300K":0.76,"310K":0.93,"320K":1.09,"330K":1.23},
{"t":25250,"300K":0.79,"310K":0.88,"320K":1.04,"330K":1.16},
{"t":25500,"300K":0.84,"310K":0.83,"320K":1.02,"330K":1.13},
{"t":25750,"300K":0.78,"310K":0.87,"320K":1.09,"330K":1.22},
{"t":26000,"300K":0.81,"310K":0.91,"320K":1.13,"330K":1.27},
{"t":26250,"300K":0.83,"310K":0.86,"320K":1.03,"330K":1.20},
{"t":26500,"300K":0.77,"310K":0.89,"320K":1.07,"330K":1.17},
{"t":26750,"300K":0.81,"310K":0.91,"320K":1.11,"330K":1.21},
{"t":27000,"300K":0.86,"310K":0.94,"320K":0.98,"330K":1.24},
{"t":27250,"300K":0.78,"310K":0.89,"320K":1.04,"330K":1.18},
{"t":27500,"300K":0.79,"310K":0.86,"320K":1.10,"330K":1.12},
{"t":27750,"300K":0.84,"310K":0.87,"320K":1.07,"330K":1.25},
{"t":28000,"300K":0.82,"310K":0.90,"320K":1.05,"330K":1.30},
{"t":28250,"300K":0.79,"310K":0.92,"320K":1.03,"330K":1.17},
{"t":28500,"300K":0.76,"310K":0.84,"320K":1.16,"330K":1.19},
{"t":28750,"300K":0.82,"310K":0.89,"320K":1.10,"330K":1.24},
{"t":29000,"300K":0.85,"310K":0.95,"320K":1.00,"330K":1.21},
{"t":29250,"300K":0.80,"310K":0.90,"320K":1.05,"330K":1.19},
{"t":29500,"300K":0.78,"310K":0.87,"320K":1.08,"330K":1.14},
{"t":29750,"300K":0.81,"310K":0.88,"320K":1.03,"330K":1.23},
{"t":30000,"300K":0.83,"310K":0.92,"320K":1.12,"330K":1.28},
{"t":30250,"300K":0.78,"310K":0.89,"320K":1.09,"330K":1.19},
{"t":30500,"300K":0.80,"310K":0.85,"320K":1.01,"330K":1.16},
{"t":30750,"300K":0.82,"310K":0.91,"320K":1.04,"330K":1.22},
{"t":31000,"300K":0.77,"310K":0.88,"320K":1.06,"330K":1.25},
{"t":31250,"300K":0.80,"310K":0.86,"320K":1.11,"330K":1.18},
{"t":31500,"300K":0.84,"310K":0.94,"320K":1.14,"330K":1.20},
{"t":31750,"300K":0.82,"310K":0.89,"320K":1.06,"330K":1.26},
{"t":32000,"300K":0.79,"310K":0.83,"320K":0.99,"330K":1.13},
{"t":32250,"300K":0.77,"310K":0.88,"320K":1.02,"330K":1.16},
{"t":32500,"300K":0.86,"310K":0.91,"320K":1.09,"330K":1.27},
{"t":32750,"300K":0.81,"310K":0.90,"320K":1.12,"330K":1.21},
{"t":33000,"300K":0.76,"310K":0.86,"320K":1.03,"330K":1.18},
{"t":33250,"300K":0.79,"310K":0.87,"320K":1.05,"330K":1.24},
{"t":33500,"300K":0.82,"310K":0.93,"320K":1.15,"330K":1.23},
{"t":33750,"300K":0.84,"310K":0.91,"320K":1.01,"330K":1.20},
{"t":34000,"300K":0.80,"310K":0.89,"320K":1.07,"330K":1.29},
{"t":34250,"300K":0.78,"310K":0.86,"320K":1.10,"330K":1.17},
{"t":34500,"300K":0.85,"310K":0.84,"320K":0.98,"330K":1.15},
{"t":34750,"300K":0.82,"310K":0.92,"320K":1.06,"330K":1.25},
{"t":35000,"300K":0.78,"310K":0.95,"320K":1.11,"330K":1.22},
{"t":35250,"300K":0.80,"310K":0.90,"320K":1.03,"330K":1.18},
{"t":35500,"300K":0.81,"310K":0.87,"320K":1.04,"330K":1.12},
{"t":35750,"300K":0.78,"310K":0.88,"320K":1.09,"330K":1.21},
{"t":36000,"300K":0.84,"310K":0.90,"320K":1.13,"330K":1.26},
{"t":36250,"300K":0.81,"310K":0.92,"320K":1.07,"330K":1.23},
{"t":36500,"300K":0.77,"310K":0.85,"320K":1.00,"330K":1.17},
{"t":36750,"300K":0.80,"310K":0.89,"320K":1.04,"330K":1.20},
{"t":37000,"300K":0.83,"310K":0.94,"320K":1.08,"330K":1.30},
{"t":37250,"300K":0.79,"310K":0.86,"320K":1.12,"330K":1.25},
{"t":37500,"300K":0.76,"310K":0.88,"320K":1.16,"330K":1.14},
{"t":37750,"300K":0.82,"310K":0.91,"320K":1.05,"330K":1.16},
{"t":38000,"300K":0.85,"310K":0.83,"320K":1.02,"330K":1.24},
{"t":38250,"300K":0.81,"310K":0.88,"320K":1.07,"330K":1.22},
{"t":38500,"300K":0.79,"310K":0.92,"320K":1.10,"330K":1.19},
{"t":38750,"300K":0.80,"310K":0.89,"320K":1.04,"330K":1.25},
{"t":39000,"300K":0.82,"310K":0.86,"320K":0.99,"330K":1.28},
{"t":39250,"300K":0.84,"310K":0.91,"320K":1.11,"330K":1.17},
{"t":39500,"300K":0.86,"310K":0.95,"320K":1.06,"330K":1.13},
{"t":39750,"300K":0.79,"310K":0.87,"320K":1.03,"330K":1.24},
{"t":40000,"300K":0.77,"310K":0.89,"320K":1.14,"330K":1.21},
{"t":40250,"300K":0.83,"310K":0.92,"320K":1.08,"330K":1.17},
{"t":40500,"300K":0.80,"310K":0.84,"320K":1.03,"330K":1.25},
{"t":40750,"300K":0.81,"310K":0.86,"320K":1.06,"330K":1.21},
{"t":41000,"300K":0.84,"310K":0.91,"320K":1.09,"330K":1.16},
{"t":41250,"300K":0.80,"310K":0.90,"320K":1.02,"330K":1.23},
{"t":41500,"300K":0.78,"310K":0.87,"320K":0.98,"330K":1.29},
{"t":41750,"300K":0.85,"310K":0.89,"320K":1.11,"330K":1.18},
{"t":42000,"300K":0.83,"310K":0.93,"320K":1.12,"330K":1.12},
{"t":42250,"300K":0.78,"310K":0.88,"320K":1.04,"330K":1.24},
{"t":42500,"300K":0.76,"310K":0.85,"320K":1.05,"330K":1.23},
{"t":42750,"300K":0.82,"310K":0.92,"320K":1.09,"330K":1.21},
{"t":43000,"300K":0.81,"310K":0.90,"320K":1.15,"330K":1.18},
{"t":43250,"300K":0.79,"310K":0.87,"320K":1.06,"330K":1.22},
{"t":43500,"300K":0.85,"310K":0.94,"320K":1.01,"330K":1.27},
{"t":43750,"300K":0.81,"310K":0.90,"320K":1.03,"330K":1.18},
{"t":44000,"300K":0.79,"310K":0.83,"320K":1.07,"330K":1.15},
{"t":44250,"300K":0.84,"310K":0.86,"320K":1.12,"330K":1.23},
{"t":44500,"300K":0.82,"310K":0.92,"320K":1.11,"330K":1.22},
{"t":44750,"300K":0.80,"310K":0.89,"320K":1.02,"330K":1.26},
{"t":45000,"300K":0.77,"310K":0.88,"320K":0.99,"330K":1.30},
{"t":45250,"300K":0.79,"310K":0.91,"320K":1.07,"330K":1.18},
{"t":45500,"300K":0.86,"310K":0.86,"320K":1.13,"330K":1.17},
{"t":45750,"300K":0.83,"310K":0.88,"320K":1.05,"330K":1.22},
{"t":46000,"300K":0.80,"310K":0.95,"320K":1.04,"330K":1.24},
{"t":46250,"300K":0.81,"310K":0.87,"320K":1.12,"330K":1.20},
{"t":46500,"300K":0.78,"310K":0.84,"320K":1.08,"330K":1.13},
{"t":46750,"300K":0.80,"310K":0.90,"320K":1.02,"330K":1.17},
{"t":47000,"300K":0.84,"310K":0.91,"320K":1.00,"330K":1.26},
{"t":47250,"300K":0.78,"310K":0.86,"320K":1.09,"330K":1.24},
{"t":47500,"300K":0.76,"310K":0.89,"320K":1.16,"330K":1.20},
{"t":47750,"300K":0.82,"310K":0.91,"320K":1.07,"330K":1.19},
{"t":48000,"300K":0.83,"310K":0.93,"320K":1.06,"330K":1.28},
{"t":48250,"300K":0.79,"310K":0.88,"320K":1.03,"330K":1.23},
{"t":48500,"300K":0.81,"310K":0.85,"320K":1.10,"330K":1.14},
{"t":48750,"300K":0.83,"310K":0.92,"320K":1.11,"330K":1.17},
{"t":49000,"300K":0.77,"310K":0.90,"320K":1.02,"330K":1.23},
{"t":49250,"300K":0.80,"310K":0.89,"320K":1.04,"330K":1.25},
{"t":49500,"300K":0.85,"310K":0.87,"320K":1.14,"330K":1.19},
{"t":49750,"300K":0.81,"310K":0.86,"320K":1.08,"330K":1.18},
{"t":50000,"300K":0.79,"310K":0.94,"320K":1.05,"330K":1.25},
{"t":50250,"300K":0.80,"310K":0.91,"320K":1.04,"330K":1.23},
{"t":50500,"300K":0.82,"310K":0.89,"320K":1.09,"330K":1.21}
],
"d":[
{"t":0,"300K":1.10,"310K":1.30,"320K":1.62,"330K":2.05},
{"t":250,"300K":1.06,"310K":1.22,"320K":1.52,"330K":1.92},
{"t":500,"300K":1.02,"310K":1.16,"320K":1.42,"330K":1.78},
{"t":750,"300K":1.14,"310K":1.28,"320K":1.63,"330K":2.10},
{"t":1000,"300K":1.22,"310K":1.42,"320K":1.85,"330K":2.42},
{"t":1250,"300K":1.09,"310K":1.32,"320K":1.66,"330K":2.13},
{"t":1500,"300K":1.05,"310K":1.20,"320K":1.48,"330K":1.85},
{"t":1750,"300K":1.12,"310K":1.27,"320K":1.61,"330K":2.08},
{"t":2000,"300K":1.17,"310K":1.35,"320K":1.75,"330K":2.30},
{"t":2250,"300K":1.08,"310K":1.24,"320K":1.57,"330K":2.03},
{"t":2500,"300K":1.01,"310K":1.14,"320K":1.40,"330K":1.76},
{"t":2750,"300K":1.06,"310K":1.21,"320K":1.49,"330K":1.95},
{"t":3000,"300K":1.13,"310K":1.27,"320K":1.58,"330K":2.15},
{"t":3250,"300K":1.18,"310K":1.35,"320K":1.73,"330K":2.32},
{"t":3500,"300K":1.26,"310K":1.46,"320K":1.88,"330K":2.48},
{"t":3750,"300K":1.09,"310K":1.31,"320K":1.66,"330K":2.15},
{"t":4000,"300K":1.04,"310K":1.18,"320K":1.45,"330K":1.82},
{"t":4250,"300K":1.11,"310K":1.25,"320K":1.57,"330K":2.03},
{"t":4500,"300K":1.15,"310K":1.33,"320K":1.70,"330K":2.25},
{"t":4750,"300K":1.06,"310K":1.27,"320K":1.61,"330K":2.10},
{"t":5000,"300K":1.08,"310K":1.23,"320K":1.52,"330K":1.95},
{"t":5250,"300K":1.13,"310K":1.30,"320K":1.67,"330K":2.20},
{"t":5500,"300K":1.20,"310K":1.40,"320K":1.82,"330K":2.45},
{"t":5750,"300K":1.09,"310K":1.26,"320K":1.60,"330K":2.11},
{"t":6000,"300K":1.01,"310K":1.15,"320K":1.39,"330K":1.77},
{"t":6250,"300K":1.05,"310K":1.21,"320K":1.52,"330K":1.93},
{"t":6500,"300K":1.12,"310K":1.29,"320K":1.65,"330K":2.10},
{"t":6750,"300K":1.19,"310K":1.37,"320K":1.77,"330K":2.30},
{"t":7000,"300K":1.28,"310K":1.48,"320K":1.90,"330K":2.49},
{"t":7250,"300K":1.12,"310K":1.31,"320K":1.59,"330K":2.12},
{"t":7500,"300K":1.06,"310K":1.19,"320K":1.47,"330K":1.88},
{"t":7750,"300K":1.10,"310K":1.26,"320K":1.60,"330K":2.11},
{"t":8000,"300K":1.16,"310K":1.36,"320K":1.72,"330K":2.35},
{"t":8250,"300K":1.08,"310K":1.24,"320K":1.56,"330K":2.07},
{"t":8500,"300K":1.02,"310K":1.13,"320K":1.41,"330K":1.80},
{"t":8750,"300K":1.06,"310K":1.19,"320K":1.50,"330K":1.91},
{"t":9000,"300K":1.11,"310K":1.26,"320K":1.60,"330K":2.02},
{"t":9250,"300K":1.16,"310K":1.35,"320K":1.73,"330K":2.23},
{"t":9500,"300K":1.24,"310K":1.44,"320K":1.86,"330K":2.44},
{"t":9750,"300K":1.10,"310K":1.29,"320K":1.65,"330K":2.14},
{"t":10000,"300K":1.03,"310K":1.17,"320K":1.44,"330K":1.84},
{"t":10250,"300K":1.09,"310K":1.24,"320K":1.56,"330K":2.02},
{"t":10500,"300K":1.14,"310K":1.31,"320K":1.68,"330K":2.20},
{"t":10750,"300K":1.10,"310K":1.26,"320K":1.61,"330K":2.06},
{"t":11000,"300K":1.07,"310K":1.22,"320K":1.55,"330K":1.92},
{"t":11250,"300K":1.13,"310K":1.30,"320K":1.67,"330K":2.19},
{"t":11500,"300K":1.21,"310K":1.39,"320K":1.80,"330K":2.47},
{"t":11750,"300K":1.08,"310K":1.27,"320K":1.59,"330K":2.12},
{"t":12000,"300K":1.00,"310K":1.14,"320K":1.38,"330K":1.76},
{"t":12250,"300K":1.05,"310K":1.21,"320K":1.50,"330K":1.94},
{"t":12500,"300K":1.12,"310K":1.28,"320K":1.63,"330K":2.12},
{"t":12750,"300K":1.15,"310K":1.36,"320K":1.76,"330K":2.26},
{"t":13000,"300K":1.18,"310K":1.45,"320K":1.89,"330K":2.40},
{"t":13250,"300K":1.10,"310K":1.33,"320K":1.67,"330K":2.13},
{"t":13500,"300K":1.04,"310K":1.20,"320K":1.46,"330K":1.86},
{"t":13750,"300K":1.13,"310K":1.26,"320K":1.60,"330K":2.07},
{"t":14000,"300K":1.25,"310K":1.34,"320K":1.74,"330K":2.28},
{"t":14250,"300K":1.14,"310K":1.25,"320K":1.62,"330K":2.04},
{"t":14500,"300K":1.06,"310K":1.16,"320K":1.50,"330K":1.79},
{"t":14750,"300K":1.09,"310K":1.28,"320K":1.66,"330K":2.12},
{"t":15000,"300K":1.15,"310K":1.41,"320K":1.83,"330K":2.46},
{"t":15250,"300K":1.07,"310K":1.32,"320K":1.62,"330K":2.18},
{"t":15500,"300K":1.01,"310K":1.24,"320K":1.42,"330K":1.90},
{"t":15750,"300K":1.05,"310K":1.18,"320K":1.50,"330K":1.99},
{"t":16000,"300K":1.10,"310K":1.12,"320K":1.59,"330K":2.08},
{"t":16250,"300K":1.16,"310K":1.23,"320K":1.68,"330K":2.23},
{"t":16500,"300K":1.23,"310K":1.32,"320K":1.77,"330K":2.38},
{"t":16750,"300K":1.12,"310K":1.38,"320K":1.58,"330K":2.08},
{"t":17000,"300K":1.05,"310K":1.47,"320K":1.40,"330K":1.78},
{"t":17250,"300K":1.08,"310K":1.31,"320K":1.53,"330K":1.98},
{"t":17500,"300K":1.13,"310K":1.18,"320K":1.67,"330K":2.18},
{"t":17750,"300K":1.07,"310K":1.23,"320K":1.77,"330K":2.33},
{"t":18000,"300K":1.02,"310K":1.30,"320K":1.87,"330K":2.49},
{"t":18250,"300K":1.10,"310K":1.25,"320K":1.68,"330K":2.16},
{"t":18500,"300K":1.19,"310K":1.21,"320K":1.49,"330K":1.83},
{"t":18750,"300K":1.13,"310K":1.29,"320K":1.60,"330K":2.04},
{"t":19000,"300K":1.08,"310K":1.38,"320K":1.71,"330K":2.26},
{"t":19250,"300K":1.16,"310K":1.27,"320K":1.57,"330K":2.01},
{"t":19500,"300K":1.27,"310K":1.15,"320K":1.43,"330K":1.75},
{"t":19750,"300K":1.09,"310K":1.21,"320K":1.49,"330K":2.20},
{"t":20000,"300K":1.03,"310K":1.27,"320K":1.56,"330K":2.00},
{"t":20250,"300K":1.08,"310K":1.34,"320K":1.70,"330K":2.21},
{"t":20500,"300K":1.14,"310K":1.43,"320K":1.84,"330K":2.43},
{"t":20750,"300K":1.10,"310K":1.30,"320K":1.65,"330K":2.15},
{"t":21000,"300K":1.06,"310K":1.19,"320K":1.45,"330K":1.87},
{"t":21250,"300K":1.12,"310K":1.27,"320K":1.57,"330K":2.09},
{"t":21500,"300K":1.21,"310K":1.35,"320K":1.69,"330K":2.32},
{"t":21750,"300K":1.11,"310K":1.24,"320K":1.54,"330K":2.05},
{"t":22000,"300K":1.01,"310K":1.13,"320K":1.39,"330K":1.77},
{"t":22250,"300K":1.05,"310K":1.21,"320K":1.50,"330K":1.96},
{"t":22500,"300K":1.11,"310K":1.29,"320K":1.61,"330K":2.14},
{"t":22750,"300K":1.14,"310K":1.38,"320K":1.75,"330K":2.31},
{"t":23000,"300K":1.17,"310K":1.49,"320K":1.90,"330K":2.48},
{"t":23250,"300K":1.09,"310K":1.35,"320K":1.69,"330K":2.15},
{"t":23500,"300K":1.04,"310K":1.22,"320K":1.48,"330K":1.81},
{"t":23750,"300K":1.13,"310K":1.26,"320K":1.62,"330K":2.08},
{"t":24000,"300K":1.24,"310K":1.33,"320K":1.76,"330K":2.22},
{"t":24250,"300K":1.15,"310K":1.25,"320K":1.64,"330K":2.10},
{"t":24500,"300K":1.07,"310K":1.17,"320K":1.53,"330K":1.94},
{"t":24750,"300K":1.09,"310K":1.29,"320K":1.67,"330K":2.19},
{"t":25000,"300K":1.13,"310K":1.40,"320K":1.81,"330K":2.45},
{"t":25250,"300K":1.06,"310K":1.32,"320K":1.61,"330K":2.12},
{"t":25500,"300K":1.00,"310K":1.25,"320K":1.41,"330K":1.79},
{"t":25750,"300K":1.08,"310K":1.19,"320K":1.52,"330K":1.93},
{"t":26000,"300K":1.16,"310K":1.14,"320K":1.64,"330K":2.06},
{"t":26250,"300K":1.12,"310K":1.25,"320K":1.75,"330K":2.21},
{"t":26500,"300K":1.09,"310K":1.36,"320K":1.86,"330K":2.36},
{"t":26750,"300K":1.16,"310K":1.27,"320K":1.66,"330K":2.10},
{"t":27000,"300K":1.26,"310K":1.20,"320K":1.46,"330K":1.84},
{"t":27250,"300K":1.10,"310K":1.32,"320K":1.59,"330K":2.17},
{"t":27500,"300K":1.03,"310K":1.46,"320K":1.73,"330K":2.50},
{"t":27750,"300K":1.07,"310K":1.36,"320K":1.57,"330K":2.21},
{"t":28000,"300K":1.12,"310K":1.28,"320K":1.40,"330K":1.93},
{"t":28250,"300K":1.09,"310K":1.22,"320K":1.49,"330K":2.05},
{"t":28500,"300K":1.05,"310K":1.16,"320K":1.58,"330K":2.16},
{"t":28750,"300K":1.13,"310K":1.24,"320K":1.73,"330K":1.96},
{"t":29000,"300K":1.20,"310K":1.32,"320K":1.88,"330K":1.76},
{"t":29250,"300K":1.08,"310K":1.37,"320K":1.66,"330K":2.08},
{"t":29500,"300K":1.02,"310K":1.42,"320K":1.44,"330K":2.41},
{"t":29750,"300K":1.07,"310K":1.28,"320K":1.55,"330K":2.15},
{"t":30000,"300K":1.15,"310K":1.18,"320K":1.66,"330K":1.88},
{"t":30250,"300K":1.11,"310K":1.24,"320K":1.58,"330K":2.06},
{"t":30500,"300K":1.08,"310K":1.30,"320K":1.51,"330K":2.24},
{"t":30750,"300K":1.17,"310K":1.26,"320K":1.65,"330K":2.02},
{"t":31000,"300K":1.29,"310K":1.23,"320K":1.79,"330K":1.80},
{"t":31250,"300K":1.14,"310K":1.36,"320K":1.58,"330K":2.13},
{"t":31500,"300K":1.04,"310K":1.50,"320K":1.38,"330K":2.47},
{"t":31750,"300K":1.08,"310K":1.32,"320K":1.50,"330K":2.22},
{"t":32000,"300K":1.13,"310K":1.15,"320K":1.62,"330K":1.97},
{"t":32250,"300K":1.06,"310K":1.24,"320K":1.74,"330K":2.04},
{"t":32500,"300K":1.01,"310K":1.34,"320K":1.85,"330K":2.11},
{"t":32750,"300K":1.10,"310K":1.27,"320K":1.66,"330K":1.94},
{"t":33000,"300K":1.18,"310K":1.21,"320K":1.47,"330K":1.78},
{"t":33250,"300K":1.12,"310K":1.30,"320K":1.58,"330K":2.08},
{"t":33500,"300K":1.06,"310K":1.39,"320K":1.70,"330K":2.39},
{"t":33750,"300K":1.13,"310K":1.26,"320K":1.56,"330K":2.12},
{"t":34000,"300K":1.22,"310K":1.13,"320K":1.42,"330K":1.85},
{"t":34250,"300K":1.11,"310K":1.21,"320K":1.49,"330K":2.07},
{"t":34500,"300K":1.03,"310K":1.27,"320K":1.57,"330K":2.29},
{"t":34750,"300K":1.06,"310K":1.35,"320K":1.70,"330K":2.02},
{"t":35000,"300K":1.11,"310K":1.44,"320K":1.83,"330K":1.75},
{"t":35250,"300K":1.13,"310K":1.31,"320K":1.64,"330K":2.10},
{"t":35500,"300K":1.16,"310K":1.19,"320K":1.45,"330K":2.44},
{"t":35750,"300K":1.08,"310K":1.25,"320K":1.56,"330K":2.17},
{"t":36000,"300K":1.02,"310K":1.31,"320K":1.68,"330K":1.91},
{"t":36250,"300K":1.12,"310K":1.27,"320K":1.54,"330K":2.05},
{"t":36500,"300K":1.25,"310K":1.24,"320K":1.40,"330K":2.19},
{"t":36750,"300K":1.15,"310K":1.30,"320K":1.58,"330K":2.00},
{"t":37000,"300K":1.07,"310K":1.37,"320K":1.76,"330K":1.82},
{"t":37250,"300K":1.10,"310K":1.26,"320K":1.64,"330K":2.16},
{"t":37500,"300K":1.14,"310K":1.16,"320K":1.52,"330K":2.49},
{"t":37750,"300K":1.06,"310K":1.22,"320K":1.70,"330K":2.14},
{"t":38000,"300K":1.00,"310K":1.29,"320K":1.89,"330K":2.03},
{"t":38250,"300K":1.10,"310K":1.38,"320K":1.66,"330K":1.90},
{"t":38500,"300K":1.19,"310K":1.47,"320K":1.43,"330K":1.77},
{"t":38750,"300K":1.12,"310K":1.33,"320K":1.53,"330K":2.18},
{"t":39000,"300K":1.05,"310K":1.20,"320K":1.63,"330K":2.33},
{"t":39250,"300K":1.08,"310K":1.27,"320K":1.71,"330K":2.11},
{"t":39500,"300K":1.12,"310K":1.35,"320K":1.80,"330K":1.89},
{"t":39750,"300K":1.16,"310K":1.24,"320K":1.63,"330K":2.17},
{"t":40000,"300K":1.23,"310K":1.14,"320K":1.46,"330K":2.46},
{"t":40250,"300K":1.12,"310K":1.20,"320K":1.59,"330K":2.13},
{"t":40500,"300K":1.03,"310K":1.26,"320K":1.72,"330K":1.80},
{"t":40750,"300K":1.08,"310K":1.33,"320K":1.56,"330K":1.96},
{"t":41000,"300K":1.15,"310K":1.41,"320K":1.39,"330K":2.13},
{"t":41250,"300K":1.11,"310K":1.29,"320K":1.49,"330K":2.25},
{"t":41500,"300K":1.08,"310K":1.18,"320K":1.60,"330K":2.37},
{"t":41750,"300K":1.04,"310K":1.25,"320K":1.74,"330K":2.08},
{"t":42000,"300K":1.01,"310K":1.33,"320K":1.87,"330K":1.79},
{"t":42250,"300K":1.10,"310K":1.27,"320K":1.67,"330K":2.01},
{"t":42500,"300K":1.20,"310K":1.22,"320K":1.48,"330K":2.23},
{"t":42750,"300K":1.12,"310K":1.33,"320K":1.57,"330K":2.09},
{"t":43000,"300K":1.06,"310K":1.45,"320K":1.66,"330K":1.95},
{"t":43250,"300K":1.15,"310K":1.30,"320K":1.53,"330K":2.21},
{"t":43500,"300K":1.27,"310K":1.15,"320K":1.41,"330K":2.48},
{"t":43750,"300K":1.14,"310K":1.22,"320K":1.59,"330K":2.15},
{"t":44000,"300K":1.04,"310K":1.30,"320K":1.78,"330K":1.83},
{"t":44250,"300K":1.08,"310K":1.34,"320K":1.66,"330K":1.96},
{"t":44500,"300K":1.13,"310K":1.38,"320K":1.54,"330K":2.09},
{"t":44750,"300K":1.10,"310K":1.27,"320K":1.69,"330K":2.25},
{"t":45000,"300K":1.09,"310K":1.17,"320K":1.84,"330K":2.42},
{"t":45250,"300K":1.12,"310K":1.23,"320K":1.64,"330K":2.14},
{"t":45500,"300K":1.17,"310K":1.28,"320K":1.44,"330K":1.86},
{"t":45750,"300K":1.09,"310K":1.35,"320K":1.56,"330K":2.06},
{"t":46000,"300K":1.02,"310K":1.43,"320K":1.69,"330K":2.27},
{"t":46250,"300K":1.11,"310K":1.32,"320K":1.54,"330K":2.01},
{"t":46500,"300K":1.21,"310K":1.21,"320K":1.39,"330K":1.76},
{"t":46750,"300K":1.13,"310K":1.27,"320K":1.57,"330K":2.08},
{"t":47000,"300K":1.05,"310K":1.34,"320K":1.74,"330K":2.40},
{"t":47250,"300K":1.10,"310K":1.23,"320K":1.62,"330K":2.19},
{"t":47500,"300K":1.14,"310K":1.13,"320K":1.50,"330K":1.98},
{"t":47750,"300K":1.07,"310K":1.22,"320K":1.68,"330K":2.07},
{"t":48000,"300K":1.00,"310K":1.31,"320K":1.86,"330K":2.17},
{"t":48250,"300K":1.09,"310K":1.39,"320K":1.65,"330K":1.99},
{"t":48500,"300K":1.18,"310K":1.48,"320K":1.45,"330K":1.81},
{"t":48750,"300K":1.12,"310K":1.33,"320K":1.54,"330K":2.13},
{"t":49000,"300K":1.07,"310K":1.19,"320K":1.65,"330K":2.45},
{"t":49250,"300K":1.15,"310K":1.27,"320K":1.73,"330K":2.18},
{"t":49500,"300K":1.24,"310K":1.36,"320K":1.81,"330K":1.90},
{"t":49750,"300K":1.11,"310K":1.30,"320K":1.64,"330K":2.06},
{"t":50000,"300K":1.03,"310K":1.24,"320K":1.47,"330K":2.21},
{"t":50250,"300K":1.07,"310K":1.26,"320K":1.58,"330K":2.13},
{"t":50500,"300K":1.12,"310K":1.29,"320K":1.70,"330K":2.05}
]
},
"vconcat":[
{
"hconcat":[
{"width":29,"height":1,"title":{"text":"(a)","anchor":"start","frame":"group","font":"Liberation Serif","fontSize":14,"color":"#000000","fontWeight":"normal","offset":8,"dx":0},"data":{"values":[]},"mark":"point"},
{
"width":552,"height":225,
"title":{"text":"Protease-Comp16","offset":4,"dx":-17},
"data":{"name":"a"},
"transform":[{"fold":["300K","310K","320K","330K"],"as":["series","rg"]}],
"mark":{"type":"line","strokeWidth":2,"clip":true},
"encoding":{
"x":{"field":"t","type":"quantitative","scale":{"domain":[0,50700],"nice":false,"zero":false},"axis":{"title":"Time (ps)","values":[0,5000,10000,15000,20000,25000,30000,35000,40000,45000,50000],"format":"d"}},
"y":{"field":"rg","type":"quantitative","scale":{"domain":[0,1.4],"nice":false},"axis":{"title":"Rg","values":[0,0.2,0.4,0.6,0.8,1,1.2,1.4],"format":"~g","labelPadding":10,"titlePadding":0}},
"color":{"field":"series","type":"nominal","scale":{"domain":["300K","310K","320K","330K"],"range":["#00B050","#FF0000","#00B0F0","#002060"]},"legend":{"title":null,"orient":"none","direction":"horizontal","legendX":172,"legendY":260}}
}
}
],
"spacing":0,
"resolve":{"scale":{"color":"independent"},"legend":{"color":"independent"}}
},
{
"hconcat":[
{"width":54,"height":1,"title":{"text":"(b)","anchor":"start","frame":"group","font":"Liberation Serif","fontSize":14,"color":"#000000","fontWeight":"normal","offset":8,"dx":9},"data":{"values":[]},"mark":"point"},
{
"width":563,"height":216,
"title":{"text":"Protease-Comp8","offset":4,"dx":-18},
"data":{"name":"b"},
"transform":[{"fold":["300K","310K","320K","330K"],"as":["series","rg"]}],
"mark":{"type":"line","strokeWidth":2,"clip":true},
"encoding":{
"x":{"field":"t","type":"quantitative","scale":{"domain":[0,50700],"nice":false,"zero":false},"axis":{"title":"Time (ps)","values":[0,5000,10000,15000,20000,25000,30000,35000,40000,45000,50000],"format":"d"}},
"y":{"field":"rg","type":"quantitative","scale":{"domain":[0,1.8],"nice":false},"axis":{"title":"Rg","values":[0,0.2,0.4,0.6,0.8,1,1.2,1.4,1.6,1.8],"format":"~g","labelPadding":9,"titlePadding":0}},
"color":{"field":"series","type":"nominal","scale":{"domain":["300K","310K","320K","330K"],"range":["#00B050","#FF0000","#00B0F0","#002060"]},"legend":{"title":null,"orient":"none","direction":"horizontal","legendX":171,"legendY":251}}
}
}
],
"spacing":0,
"resolve":{"scale":{"color":"independent"},"legend":{"color":"independent"}}
},
{
"hconcat":[
{"width":50,"height":288,"title":{"text":"(c)","anchor":"start","frame":"group","font":"Liberation Serif","fontSize":14,"color":"#000000","fontWeight":"normal","offset":12,"dx":9},"data":{"values":[]},"mark":"point"},
{
"width":567,"height":234,
"title":{"text":"MethylTransferase-Comp13","offset":8,"dx":-16},
"data":{"name":"c"},
"transform":[{"fold":["300K","310K","320K","330K"],"as":["series","rg"]}],
"mark":{"type":"line","strokeWidth":2,"clip":true},
"encoding":{
"x":{"field":"t","type":"quantitative","scale":{"domain":[0,50700],"nice":false,"zero":false},"axis":{"title":"Time (ps)","values":[0,5000,10000,15000,20000,25000,30000,35000,40000,45000,50000],"format":"d"}},
"y":{"field":"rg","type":"quantitative","scale":{"domain":[0,1.4],"nice":false},"axis":{"title":"Rg","values":[0,0.2,0.4,0.6,0.8,1,1.2,1.4],"format":"~g","labelPadding":10,"titlePadding":4}},
"color":{"field":"series","type":"nominal","scale":{"domain":["300K","310K","320K","330K"],"range":["#00B050","#FF0000","#00B0F0","#002060"]},"legend":{"title":null,"orient":"none","direction":"horizontal","legendX":175,"legendY":274}}
}
}
],
"spacing":0,
"resolve":{"scale":{"color":"independent"},"legend":{"color":"independent"}}
},
{
"hconcat":[
{"width":78,"height":1,"title":{"text":"(d)","anchor":"start","frame":"group","font":"Liberation Serif","fontSize":14,"color":"#000000","fontWeight":"normal","offset":9,"dx":4},"data":{"values":[]},"mark":"point"},
{
"width":568,"height":245,
"title":{"text":"MethylTransferase-Comp17","offset":5,"dx":-27},
"data":{"name":"d"},
"transform":[{"fold":["300K","310K","320K","330K"],"as":["series","rg"]}],
"mark":{"type":"line","strokeWidth":2,"clip":true},
"encoding":{
"x":{"field":"t","type":"quantitative","scale":{"domain":[0,51000],"nice":false,"zero":false},"axis":{"title":"Time (ps)","values":[0,5000,10000,15000,20000,25000,30000,35000,40000,45000,50000],"format":"d"}},
"y":{"field":"rg","type":"quantitative","scale":{"domain":[0,2.5],"nice":false},"axis":{"title":"Rg","values":[0,0.5,1,1.5,2,2.5],"format":"~g","labelPadding":12,"titlePadding":-9}},
"color":{"field":"series","type":"nominal","scale":{"domain":["300K","310K","320K","330K"],"range":["#00B050","#FF0000","#00B0F0","#002060"]},"legend":{"title":null,"orient":"none","direction":"horizontal","legendX":176,"legendY":283}}
}
}
],
"spacing":0,
"resolve":{"scale":{"color":"independent"},"legend":{"color":"independent"}}
}
],
"spacing":4,
"resolve":{"scale":{"color":"independent"},"legend":{"color":"independent"}}
}
